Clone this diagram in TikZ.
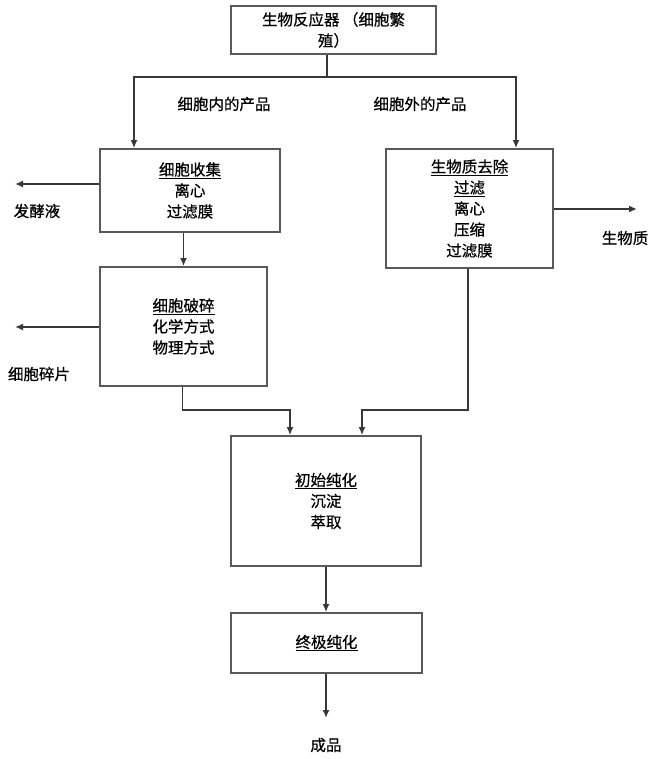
\documentclass[tikz,border=0pt]{standalone}
\usepackage{fontspec}
\newfontfamily\cjk[FakeBold=0.6]{Noto Sans CJK SC}
\usepackage{tikz}
\usetikzlibrary{positioning, arrows.meta}

\begin{document}
\begin{tikzpicture} [x=1pt, y=-1pt,
					    font=\cjk\fontsize{15.5}{21}\selectfont,
					    stage/.style = {draw=black!65,
					    line width=1.8pt,
					    rectangle,
					    align=center,
					    inner sep=0pt},
					    arr/.style = {draw=black!78, line width=1.7pt,
					    -{Latex[length=8pt,width=7pt]}},
					    link/.style = {draw=black!78, line width=1.7pt}]

					\useasboundingbox (0,0) rectangle (657,759);

					\node (reactor) at (333.5,30) [stage,minimum width=205pt,minimum height=48pt] {生物反应器 （细胞繁\\殖）};
					\node (harvest) at (190,190.5) [stage,minimum width=180pt,minimum height=83pt] {\underline{细胞收集}\\离心\\过滤膜};
					\node (disrupt) at (183.5,326.5) [stage,minimum width=167pt,minimum height=119pt] {\underline{细胞破碎}\\化学方式\\物理方式};
					\node (biomass) at (469.5,208.5) [stage,minimum width=167pt,minimum height=119pt] {\underline{生物质去除}\\\underline{过滤}\\离心\\压缩\\过滤膜};
					\node (primary) at (326,501) [stage,minimum width=190pt,minimum height=130pt] {\underline{初始纯化}\\沉淀\\萃取};
					\node (polish) at (326.5,643) [stage,minimum width=191pt,minimum height=60pt] {\underline{终极纯化}};

					\node (intra) at (224,104) {细胞内的产品};
					\node (extra) at (420,104) {细胞外的产品};
					\node (broth) at (37,211) {发酵液};
					\node (debris) at (39,374) {细胞碎片};
					\node (solids) at (625,238) {生物质};
					\node (product) at (326,745) {成品};

					\coordinate (fork) at (327,77);
					\coordinate (brothtip) at (15,184);
					\coordinate (debristip) at (15,327);
					\coordinate (solidstip) at (637,209);
					\coordinate (joinL) at (290,410);
					\coordinate (joinR) at (362,410);
					\coordinate (producttip) at (326,718);

					\draw[link] (reactor.south -| fork) -- (fork);
					\draw[arr] (fork) -| ([xshift=-56pt]harvest.north);
					\draw[arr] (fork) -| ([xshift=46.5pt]biomass.north);
					\draw[arr] (harvest.west |- brothtip) -- (brothtip);
					\draw[arr] (disrupt.north |- harvest.south) -- (disrupt.north);
					\draw[arr] (disrupt.west |- debristip) -- (debristip);
					\draw[arr] (biomass.east |- solidstip) -- (solidstip);
					\draw[arr] ([xshift=-1pt]disrupt.south) |- (joinL) -- (joinL |- primary.north);
					\draw[arr] ([xshift=-1.5pt]biomass.south) |- (joinR) -- (joinR |- primary.north);
					\draw[arr] (primary.south) -- (primary.south |- polish.north);
					\draw[arr] (polish.south -| producttip) -- (producttip);
				\end{tikzpicture}
\end{document}
